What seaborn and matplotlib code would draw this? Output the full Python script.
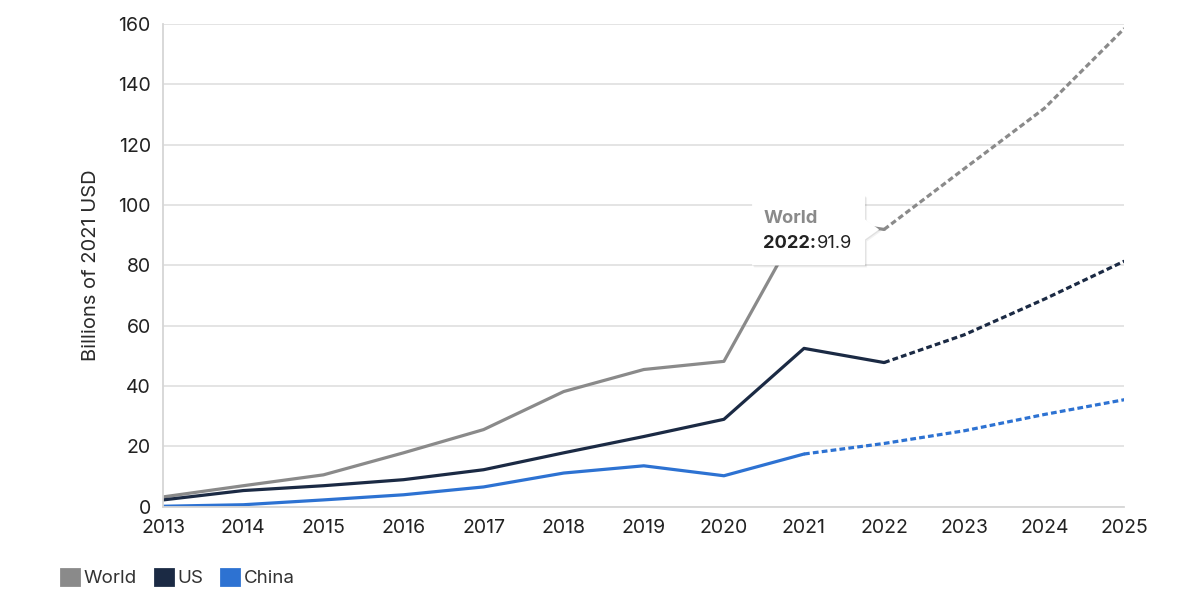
import pandas as pd
import matplotlib.pyplot as plt
from matplotlib.patches import Polygon, Patch
import seaborn as sns

years = list(range(2013, 2026))
world = [3.3, 7.0, 10.6, 17.9, 25.6, 38.2, 45.5, 48.2, 96.0, 91.9, 112.0, 132.0, 158.5]
us = [2.3, 5.4, 7.0, 9.0, 12.3, 17.9, 23.3, 29.0, 52.5, 47.8, 57.0, 68.8, 81.4]
china = [0.2, 0.7, 2.3, 4.0, 6.6, 11.2, 13.6, 10.3, 17.5, 21.0, 25.2, 30.6, 35.5]
last_actual = {'World': 2022, 'US': 2022, 'China': 2021}
colors = {'World': '#8a8a8a', 'US': '#1b2a44', 'China': '#2d72d2'}

df = pd.DataFrame({'year': years, 'World': world, 'US': us, 'China': china})

sns.set_style('white')
plt.rcParams['font.family'] = ['Inter', 'DejaVu Sans']

fig, ax = plt.subplots(figsize=(12, 5.97), dpi=100)
fig.subplots_adjust(left=0.136, right=0.937, top=0.960, bottom=0.151)

# solid = actual, dashed = projection
for name in ['World', 'US', 'China']:
    cut = last_actual[name]
    hist = df[df['year'] <= cut]
    proj = df[df['year'] >= cut]
    sns.lineplot(x=hist['year'], y=hist[name], ax=ax, color=colors[name],
                 linewidth=2.3, solid_capstyle='round')
    sns.lineplot(x=proj['year'], y=proj[name], ax=ax, color=colors[name],
                 linewidth=2.3, dashes=(1.8, 1.0))

ax.set_xlim(2013, 2025)
ax.set_ylim(0, 160)
ax.set_xticks(years)
ax.set_yticks(range(0, 161, 20))
ax.yaxis.grid(True, color='#e2e2e2', linewidth=1.3)
ax.set_axisbelow(True)
for s in ['top', 'right']:
    ax.spines[s].set_visible(False)
for s in ['left', 'bottom']:
    ax.spines[s].set_color('#d6d6d6')
    ax.spines[s].set_linewidth(1.3)
ax.tick_params(axis='both', length=6, width=1.2, color='#d6d6d6',
               labelsize=14, labelcolor='#222222', pad=3)
ax.set_xlabel('')
ax.set_ylabel('Billions of 2021 USD', fontsize=14.5, color='#2a2a2a', labelpad=13)

# tooltip for World 2022
px, py = ax.transData.transform((2022, 91.9))
shape = [(-132, 34), (-19, 34), (-19, 10), (-5, 0), (-19, -10), (-19, -36), (-132, -36)]
inv = ax.transAxes.inverted()
for dx, dy, fc, a in [(2, -2, '#000000', 0.05), (1, -1, '#000000', 0.07), (0, 0, 'white', 1.0)]:
    verts = [inv.transform((px + vx + dx, py + vy + dy)) for vx, vy in shape]
    ax.add_patch(Polygon(verts, closed=True, transform=ax.transAxes, facecolor=fc,
                         alpha=a, edgecolor='none', clip_on=False, zorder=5))
ax.annotate('World', (2022, 91.9), xytext=(-121, 11), textcoords='offset pixels',
            ha='left', va='center', fontsize=13.2, fontweight='bold', color='#8a8a8a', zorder=6)
ax.annotate('2022:', (2022, 91.9), xytext=(-121, -14), textcoords='offset pixels',
            ha='left', va='center', fontsize=13.2, fontweight='bold', color='#222222', zorder=6)
ax.annotate('91.9', (2022, 91.9), xytext=(-67, -14), textcoords='offset pixels',
            ha='left', va='center', fontsize=13.2, color='#222222', zorder=6)

handles = [Patch(facecolor=colors[n], edgecolor=colors[n], linewidth=2, joinstyle='round', label=n)
           for n in ['World', 'US', 'China']]
fig.legend(handles=handles, loc='center left', bbox_to_anchor=(0.051, 1 - 578 / 597),
           ncol=3, frameon=False, fontsize=13.5, handlelength=0.95, handleheight=0.95,
           handletextpad=0.25, columnspacing=0.95, borderpad=0, borderaxespad=0,
           labelcolor='#333333')

plt.savefig('out.png', dpi=100)
